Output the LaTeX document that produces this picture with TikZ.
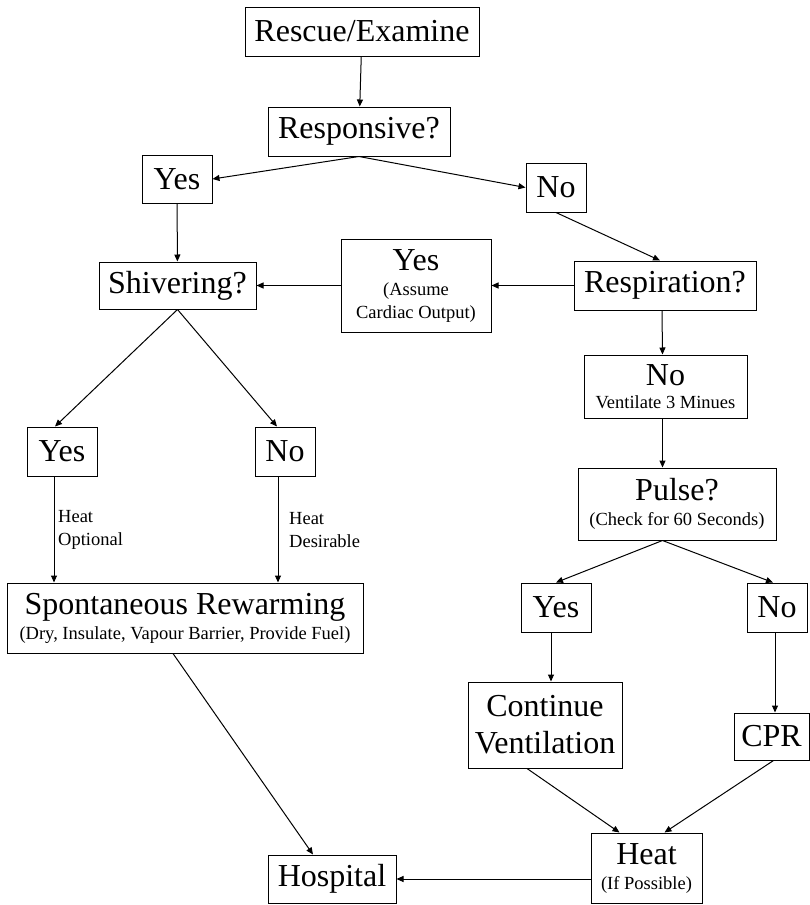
\documentclass[tikz,border=0pt]{standalone}
\usepackage{fontspec}
\setmainfont{Liberation Serif}
\usetikzlibrary{arrows.meta}
\newcommand{\notefont}{\fontsize{18.5}{23}\selectfont}

\begin{document}
\begin{tikzpicture}[x=1pt,y=-1pt,
  flowbox/.style={draw=black,line width=1pt,inner sep=0pt,align=center,font=\fontsize{32}{37}\selectfont},
  flowarrow/.style={line width=1pt,-{Triangle[length=7pt,width=6pt]}},
  notelabel/.style={anchor=west,inner sep=0pt,align=left,font=\notefont}]
\useasboundingbox (0,0) rectangle (810,905);
\node[flowbox,minimum width=234,minimum height=49] (box-rescue) at (362,31.5) {Rescue/Examine};
\node[flowbox,minimum width=182,minimum height=49] (box-responsive) at (359,131.5) {Responsive?};
\node[flowbox,minimum width=70,minimum height=48] (box-yes-0) at (177,179) {Yes};
\node[flowbox,minimum width=60,minimum height=49] (box-no-0) at (556,187.5) {No};
\node[flowbox,minimum width=157,minimum height=47] (box-shivering) at (177.5,285.5) {Shivering?};
\node[flowbox,minimum width=150,minimum height=93] (box-cardiac) at (416,285.5) {Yes\\[-12pt]\notefont (Assume\\[-14pt]\notefont Cardiac Output)};
\node[flowbox,minimum width=182,minimum height=49] (box-respiration) at (665,285.5) {Respiration?};
\node[flowbox,minimum width=163,minimum height=63] (box-ventilate) at (665.5,386.5) {No\\[-14pt]\notefont Ventilate 3 Minues};
\node[flowbox,minimum width=198,minimum height=72] (box-pulse) at (677,504) {Pulse?\\[-12pt]\notefont (Check for 60 Seconds)};
\node[flowbox,minimum width=70,minimum height=49] (box-yes-1) at (62,451.5) {Yes};
\node[flowbox,minimum width=60,minimum height=49] (box-no-1) at (285,451.5) {No};
\node[flowbox,minimum width=356,minimum height=70] (box-rewarming) at (185,618) {Spontaneous Rewarming\\[-12pt]\notefont (Dry, Insulate, Vapour Barrier, Provide Fuel)};
\node[flowbox,minimum width=70,minimum height=49] (box-yes-2) at (556,607.5) {Yes};
\node[flowbox,minimum width=60,minimum height=49] (box-no-2) at (777,607.5) {No};
\node[flowbox,minimum width=154,minimum height=86] (box-continue) at (545,725) {Continue\\Ventilation};
\node[flowbox,minimum width=75,minimum height=47] (box-cpr) at (771.5,736.5) {CPR};
\node[flowbox,minimum width=111,minimum height=70] (box-heat) at (646.5,868) {Heat\\[-12pt]\notefont (If Possible)};
\node[flowbox,minimum width=128,minimum height=48] (box-hospital) at (332,879) {Hospital};
% off-centre arrow feet
\coordinate (foot-yes-1) at ([xshift=-8]box-yes-1.south);
\coordinate (foot-no-1) at ([xshift=-7]box-no-1.south);
\coordinate (foot-ventilate) at ([xshift=-3]box-ventilate.south);
\coordinate (foot-pulse) at (box-pulse.south -| foot-ventilate);
\coordinate (foot-yes-2) at ([xshift=-5]box-yes-2.south);
\coordinate (foot-no-2) at ([xshift=-2]box-no-2.south);
\draw[flowarrow] (box-rescue) -- (box-responsive);
\draw[flowarrow] (box-responsive.south) -- (box-yes-0.east);
\draw[flowarrow] (box-responsive.south) -- (box-no-0.west);
\draw[flowarrow] (box-yes-0) -- (box-shivering);
\draw[flowarrow] (box-no-0.south) -- ([xshift=-5]box-respiration.north);
\draw[flowarrow] (box-respiration) -- (box-cardiac);
\draw[flowarrow] (box-cardiac) -- (box-shivering);
\draw[flowarrow] (box-shivering.south) -- ([xshift=-7]box-yes-1.north);
\draw[flowarrow] (box-shivering.south) -- ([xshift=-8]box-no-1.north);
\draw[flowarrow] (foot-yes-1) -- (foot-yes-1 |- box-rewarming.north);
\draw[flowarrow] (foot-no-1) -- (foot-no-1 |- box-rewarming.north);
\node[notelabel] (note-optional) at (58,530) {Heat\\Optional};
\node[notelabel] (note-desirable) at (289,530) {Heat\\Desirable};
\draw[flowarrow] ([xshift=-12]box-rewarming.south) -- ([xshift=-19]box-hospital.north);
\draw[flowarrow] ([xshift=-3]box-respiration.south) -- ([xshift=-3]box-ventilate.north);
\draw[flowarrow] (foot-ventilate) -- (foot-ventilate |- box-pulse.north);
\draw[flowarrow] (foot-pulse) -- (box-yes-2.north);
\draw[flowarrow] (foot-pulse) -- ([xshift=-4]box-no-2.north);
\draw[flowarrow] (foot-yes-2) -- (foot-yes-2 |- box-continue.north);
\draw[flowarrow] (foot-no-2) -- (foot-no-2 |- box-cpr.north);
\draw[flowarrow] ([xshift=-18]box-continue.south) -- ([xshift=-27]box-heat.north);
\draw[flowarrow] ([xshift=2]box-cpr.south) -- ([xshift=18]box-heat.north);
\draw[flowarrow] (box-hospital.east -| box-heat.west) -- (box-hospital.east);
\end{tikzpicture}
\end{document}
